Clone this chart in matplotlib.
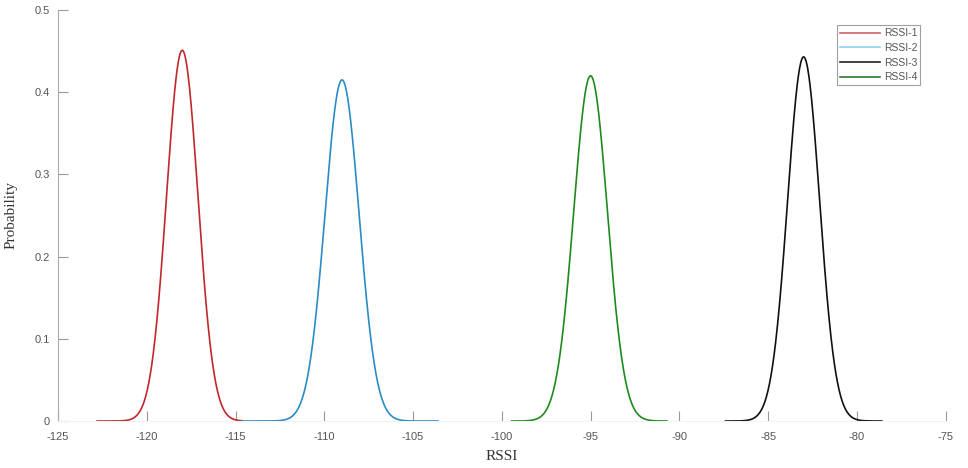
import numpy as np
import matplotlib
matplotlib.use("Agg")
import matplotlib.pyplot as plt

# Gaussian fits
labels = ['RSSI-1', 'RSSI-2', 'RSSI-3', 'RSSI-4']
means = [-118.0, -109.0, -83.0, -95.0]
peaks = [0.451, 0.415, 0.443, 0.420]
x_start = [-122.8, -114.6, -87.4, -99.45]
x_end = [-114.6, -103.6, -78.6, -90.7]
colors = ['#c0282d', '#2a8cc4', '#111111', '#1e8a1e']
legend_colors = ['#d0606a', '#8fd0e8', '#222222', '#2a7a2a']

xticks = [-125, -120, -115, -110, -105, -100, -95, -90, -85, -80, -75]
yticks = [0, 0.1, 0.2, 0.3, 0.4, 0.5]

fig = plt.figure(figsize=(9.68, 4.68), dpi=100)
ax = fig.add_axes([0.0599, 0.1004, 0.917, 0.8782])

handles = []
for lab, mu, pk, a, b, c, lc in zip(labels, means, peaks, x_start, x_end, colors, legend_colors):
    sigma = 1.0 / (pk * np.sqrt(2 * np.pi))
    x = np.linspace(a, b, 400)
    y = pk * np.exp(-0.5 * ((x - mu) / sigma) ** 2)
    ax.plot(x, y, color=c, lw=1.2)
    h, = ax.plot([], [], color=lc, lw=1.2, label=lab)
    handles.append(h)

ax.set_xlim(-125, -75)
ax.set_ylim(0, 0.5)
ax.set_xticks(xticks)
ax.set_yticks(yticks)
ax.set_xticklabels([str(t) for t in xticks])
ax.set_yticklabels(['0', '0.1', '0.2', '0.3', '0.4', '0.5'])
ax.tick_params(direction='in', length=7, color='#999999', labelcolor='#555555',
               labelsize=8, width=0.8)
ax.tick_params(axis='x', pad=8)
ax.tick_params(axis='y', pad=6)
for lbl in ax.get_xticklabels() + ax.get_yticklabels():
    lbl.set_family('Liberation Sans')

for s in ['top', 'right']:
    ax.spines[s].set_visible(False)
ax.spines['left'].set_color('#aaaaaa')
ax.spines['bottom'].set_color('#f2f2f2')

ax.set_xlabel('RSSI', family='Liberation Serif', fontsize=11, color='#333333', labelpad=6)
ax.set_ylabel('Probability', family='Liberation Serif', fontsize=11, color='#333333', labelpad=12)

leg = ax.legend(handles=handles, loc='upper left', bbox_to_anchor=(0.8716, 0.976),
                fontsize=7.5, frameon=True, fancybox=False, handlelength=3.8,
                borderpad=0.3, labelspacing=0.45, handletextpad=0.4)
leg.get_frame().set_edgecolor('#888888')
leg.get_frame().set_linewidth(0.8)
for t in leg.get_texts():
    t.set_color('#555555')
    t.set_family('Liberation Sans')

plt.savefig('out.png', dpi=100)
